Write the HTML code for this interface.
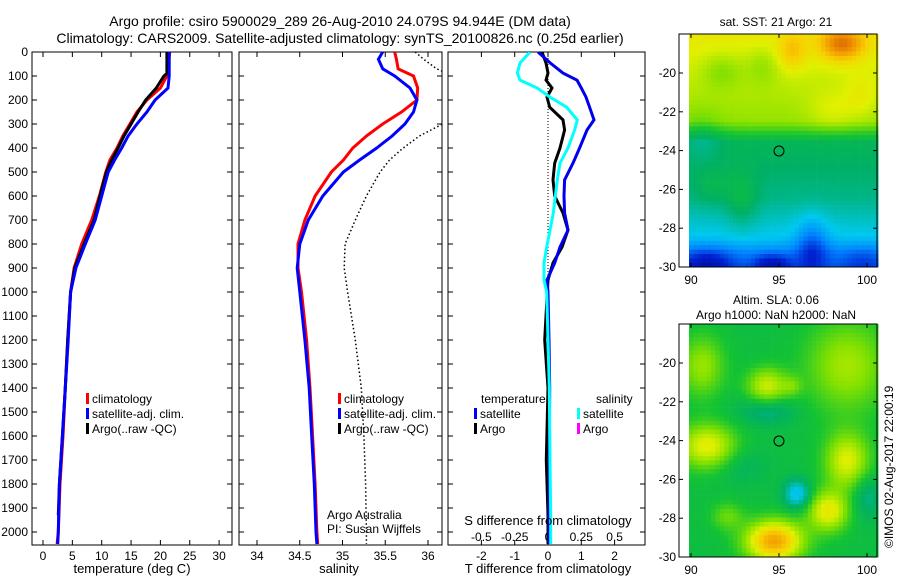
<!DOCTYPE html>
<html><head><meta charset="utf-8"><style>
body{margin:0;background:#fff}
svg{display:block;font-family:"Liberation Sans","DejaVu Sans",sans-serif}
</style></head><body>
<svg id="fig" width="900" height="580" xmlns="http://www.w3.org/2000/svg">
<defs>
<clipPath id="c1"><rect x="32" y="52" width="200" height="493"/></clipPath>
<clipPath id="c2"><rect x="239" y="52" width="203" height="493"/></clipPath>
<clipPath id="c3"><rect x="448" y="52" width="197" height="493"/></clipPath>
</defs>
<text x="340" y="26" font-size="14" text-anchor="middle">Argo profile: csiro 5900029_289 26-Aug-2010 24.079S 94.944E (DM data)</text>
<text x="340" y="43" font-size="14" text-anchor="middle">Climatology: CARS2009. Satellite-adjusted climatology: synTS_20100826.nc (0.25d earlier)</text>
<g id="p1"></g>
<g id="p2"></g>
<g id="p3"></g>
<g id="m1"></g>
<g id="m2"></g>
<text x="132" y="573" font-size="13" text-anchor="middle">temperature (deg C)</text>
<text x="339" y="573" font-size="13" text-anchor="middle">salinity</text>
<text x="548" y="573" font-size="13" text-anchor="middle">T difference from climatology</text>
<text x="548" y="525" font-size="13" text-anchor="middle">S difference from climatology</text>
<text x="327" y="519" font-size="12">Argo Australia</text>
<text x="327" y="533" font-size="12">PI: Susan Wijffels</text>
<text x="776" y="26" font-size="12" text-anchor="middle">sat. SST: 21 Argo: 21</text>
<text x="776" y="304" font-size="12" text-anchor="middle">Altim. SLA: 0.06</text>
<text x="776" y="319" font-size="12" text-anchor="middle">Argo h1000: NaN h2000: NaN</text>
<text x="0" y="0" font-size="12" transform="translate(893,548) rotate(-90)">©IMOS 02-Aug-2017 22:00:19</text>
</svg>
<script>
// ---- data ----
const depthT = [0,90,100,150,200,250,300,350,400,450,500,600,700,800,900,1000,1200,1400,1600,1800,2000,2050];
const tempClim = [21.6,21.2,21.1,20.0,17.7,16.0,14.8,13.6,12.6,11.4,10.7,9.6,8.3,6.6,5.3,4.7,4.2,3.8,3.4,2.9,2.6,2.4];
const tempSat  = [21.5,21.5,21.5,21.3,19.1,17.7,16.0,14.5,13.4,12.2,11.1,10.0,8.9,7.2,5.6,4.7,4.3,3.8,3.3,2.8,2.6,2.5];
const depthArgo = [0,90,100,150,200,250,300,350,400,450,500,600,700,800,900,1000,1200,1400,1600,1800,1930];
const tempArgo = [21.1,21.1,20.6,19.3,17.5,16.2,15.0,13.8,12.8,11.7,10.8,9.7,8.7,7.0,5.4,4.7,4.2,3.8,3.3,2.8,2.6];
const depthS = [0,30,70,100,150,200,250,300,350,400,450,500,600,700,800,900,1000,1200,1400,1600,1800,2000,2050];
const salClim = [35.61,35.63,35.65,35.83,35.88,35.87,35.69,35.47,35.28,35.12,35.01,34.87,34.68,34.56,34.48,34.48,34.52,34.58,34.62,34.65,34.68,34.70,34.71];
const salSat  = [35.47,35.42,35.47,35.61,35.79,35.87,35.83,35.73,35.58,35.40,35.20,35.01,34.77,34.60,34.50,34.47,34.50,34.56,34.61,34.64,34.67,34.69,34.70];
const salArgo = [35.85,35.95,36.10,36.30,36.40,36.40,36.30,36.17,35.90,35.71,35.55,35.44,35.28,35.15,35.03,35.02,35.06,35.15,35.22,35.25,35.27,35.28,35.28];
const depthD = [0,46,88,117,150,188,230,283,325,400,463,533,600,671,742,813,879,950,1000,1200,1400,1700,1930,2050];
const dTsat  = [-0.30,0.07,0.45,0.87,1.0,1.14,1.25,1.38,1.17,0.95,0.75,0.50,0.48,0.50,0.60,0.36,0.20,-0.03,0.0,0.03,0.05,0.04,0.03,0.03];
const dTargo = [-0.18,-0.06,0.0,-0.06,0.12,-0.03,0.05,0.45,0.50,0.36,0.20,0.15,0.20,0.45,0.60,0.42,0.15,0.0,-0.02,-0.1,0.0,-0.05,0.0,0.0];
const dSsat  = [-0.135,-0.21,-0.23,-0.21,-0.08,0.015,0.14,0.22,0.20,0.15,0.09,0.07,0.055,0.04,0.015,-0.01,-0.03,-0.03,-0.01,0.0,0.01,0.015,0.02,0.02];
const depthTicks = [0,100,200,300,400,500,600,700,800,900,1000,1100,1200,1300,1400,1500,1600,1700,1800,1900,2000];
const tempTicks = [0,5,10,15,20,25,30];
const salTicks = [34,34.5,35,35.5,36];
const dTTicks = [-2,-1,0,1,2];
const dSTicks = [-0.5,-0.25,0,0.25,0.5];
const dSTickLabels = ['-0.5','-0.25','0','0.25','0.5'];
const latTicks = [-20,-22,-24,-26,-28,-30];
const lonTicks = [90,95,100];

const NS='http://www.w3.org/2000/svg';
function el(p,tag,a){const e=document.createElementNS(NS,tag);for(const k in a)e.setAttribute(k,a[k]);p.appendChild(e);return e;}
const Y=d=>52+d*0.24;
const xT=v=>43+v*5.87;
const xS=v=>257+(v-34)*85.5;
const xD=v=>548+v*33.3;
const xDS=v=>548+v*133.2;

function box(g,x0,x1,name){
  const r=el(g,'rect',{x:x0,y:52,width:x1-x0,height:493,fill:'none',stroke:'#000','stroke-width':1});
  
  
  depthTicks.forEach(d=>{
    el(g,'line',{x1:x0,x2:x0+5,y1:Y(d),y2:Y(d),stroke:'#000'});
    el(g,'line',{x1:x1,x2:x1-5,y1:Y(d),y2:Y(d),stroke:'#000'});
  });
}
function xticks(g,vals,labels,fx,ly,name){
  vals.forEach((v,i)=>{
    el(g,'line',{x1:fx(v),x2:fx(v),y1:545,y2:540,stroke:'#000'});
    el(g,'line',{x1:fx(v),x2:fx(v),y1:52,y2:57,stroke:'#000'});
    const t=el(g,'text',{x:fx(v),y:ly,'font-size':12,'text-anchor':'middle'});
    t.textContent=labels[i];
    
    
  });
}
function line(g,xs,ds,fx,color,name,clip,dash){
  const pts=xs.map((v,i)=>fx(v).toFixed(1)+','+Y(ds[i]).toFixed(1)).join(' ');
  const a={points:pts,fill:'none',stroke:color,'stroke-width':dash?1.5:3,'clip-path':'url(#'+clip+')'};
  if(dash)a['stroke-dasharray']='1.5,2.5';
  const p=el(g,'polyline',a);
  
  
}
function legendEntry(g,x,y,color,label,name){
  el(g,'rect',{x:x,y:y-10,width:3,height:11,fill:color});
  const t=el(g,'text',{x:x+6,y:y,'font-size':12});
  t.textContent=label;
  
  
}

// Panel 1
const p1=document.getElementById('p1');
box(p1,32,232,'temperature-axes');
depthTicks.forEach(d=>{const t=el(p1,'text',{x:28,y:Y(d)+4,'font-size':12,'text-anchor':'end'});t.textContent=d;
  
  });
xticks(p1,tempTicks,tempTicks.map(String),xT,560,'temperature-tick-label');
line(p1,tempClim,depthT,xT,'#ff0000','temp-climatology-line','c1');
line(p1,tempArgo,depthArgo,xT,'#000000','temp-argo-line','c1');
line(p1,tempSat,depthT,xT,'#0000ff','temp-satellite-line','c1');
legendEntry(p1,86,403,'#ff0000','climatology','legend-climatology');
legendEntry(p1,86,418,'#0000ff','satellite-adj. clim.','legend-satellite');
legendEntry(p1,86,433,'#000000','Argo(..raw -QC)','legend-argo');

// Panel 2
const p2=document.getElementById('p2');
box(p2,239,442,'salinity-axes');
xticks(p2,salTicks,salTicks.map(String),xS,560,'salinity-tick-label');
line(p2,salArgo,depthS,xS,'#000000','salinity-argo-dotted-line','c2',true);
line(p2,salClim,depthS,xS,'#ff0000','salinity-climatology-line','c2');
line(p2,salSat,depthS,xS,'#0000ff','salinity-satellite-line','c2');
legendEntry(p2,338,403,'#ff0000','climatology','legend-climatology');
legendEntry(p2,338,418,'#0000ff','satellite-adj. clim.','legend-satellite');
legendEntry(p2,338,433,'#000000','Argo(..raw -QC)','legend-argo');

// Panel 3
const p3=document.getElementById('p3');
box(p3,448,645,'difference-axes');
xticks(p3,dTTicks,dTTicks.map(String),xD,560,'t-diff-tick-label');
dSTicks.forEach((v,i)=>{const t=el(p3,'text',{x:xDS(v),y:541,'font-size':12,'text-anchor':'middle'});t.textContent=dSTickLabels[i];
  
  });
el(p3,'line',{x1:548,x2:548,y1:52,y2:545,stroke:'#000','stroke-width':1,'stroke-dasharray':'1,2'});
line(p3,dTargo,depthD,xD,'#000000','t-diff-argo-line','c3');
line(p3,dTsat,depthD,xD,'#0000ee','t-diff-satellite-line','c3');
line(p3,dSsat,depthD,xDS,'#00ffff','s-diff-satellite-line','c3');
{const t=el(p3,'text',{x:481,y:403,'font-size':12});t.textContent='temperature';
 
 }
{const t=el(p3,'text',{x:596,y:403,'font-size':12});t.textContent='salinity';
 
 }
legendEntry(p3,474,418,'#0000ff','satellite','legend-t-satellite');
legendEntry(p3,474,433,'#000000','Argo','legend-t-argo');
legendEntry(p3,577,418,'#00ffff','satellite','legend-s-satellite');
legendEntry(p3,577,433,'#ff00ff','Argo','legend-s-argo');

// Maps
const stops=[[0,[0,0,128]],[0.15,[0,32,208]],[0.25,[0,128,255]],[0.35,[0,200,240]],[0.45,[0,176,100]],[0.52,[20,195,50]],[0.6,[128,224,0]],[0.68,[224,240,0]],[0.75,[248,208,0]],[0.85,[240,144,0]],[1,[180,40,0]]];
function cmap(v){v=Math.max(0,Math.min(1,v));for(let i=1;i<stops.length;i++){if(v<=stops[i][0]){const a=stops[i-1],b=stops[i],t=(v-a[0])/(b[0]-a[0]);return 'rgb('+a[1].map((c,k)=>Math.round(c+(b[1][k]-c)*t)).join(',')+')';}}return 'rgb(180,40,0)';}
function gauss(x,y,b){const dx=(x-b[0])/b[2],dy=(y-b[1])/b[3];return b[4]*Math.exp(-(dx*dx+dy*dy));}
function drawMap(g,top,base,blobs,name){
  const fr=el(g,'rect',{x:679,y:top,width:198,height:233,fill:'#fff',stroke:'#000'});
  
  
  const cs=4.4;
  for(let x=689;x<877;x+=cs){for(let y=top;y<top+233;y+=cs){
    let v=base(y-top);blobs.forEach(b=>v+=gauss(x,y-top,b));
    el(g,'rect',{x:x.toFixed(1),y:y.toFixed(1),width:cs+0.3,height:cs+0.3,fill:cmap(v)});
  }}
  el(g,'rect',{x:679,y:top,width:198,height:233,fill:'none',stroke:'#000'});
  latTicks.forEach(l=>{const yy=top+39+(-20-l)*19.4;
    el(g,'line',{x1:679,x2:683,y1:yy,y2:yy,stroke:'#000'});
    el(g,'line',{x1:877,x2:873,y1:yy,y2:yy,stroke:'#000'});
    const t=el(g,'text',{x:676,y:yy+4,'font-size':12,'text-anchor':'end'});t.textContent=l;
    
    });
  lonTicks.forEach(l=>{const xx=691+(l-90)*17.6;
    el(g,'line',{x1:xx,x2:xx,y1:top+233,y2:top+229,stroke:'#000'});
    el(g,'line',{x1:xx,x2:xx,y1:top,y2:top+4,stroke:'#000'});
    const t=el(g,'text',{x:xx,y:top+250,'font-size':12,'text-anchor':'middle'});t.textContent=l;
    
    });
  const c=el(g,'circle',{cx:779,cy:top+117,r:5,fill:'none',stroke:'#000'});
  
  
}
drawMap(document.getElementById('m1'),34,
  y=> y<85?0.70-y*0.001: y<105?0.615-(y-85)*0.007 : y<165?0.47-(y-105)*0.0008 : y<200?0.42-(y-165)*0.002 : y<215?0.35-(y-200)*0.005:0.27-(y-215)*0.003,
  [[840,8,22,16,0.2],[790,15,14,18,0.09],[860,60,18,22,0.05],[720,35,20,18,-0.06],[760,30,18,20,-0.05],[830,75,25,20,0.05],[700,100,20,25,-0.05],[810,210,16,28,-0.12],[705,228,25,15,-0.14],[770,228,18,10,-0.14],[860,225,22,15,-0.06],[740,165,16,30,0.06],[710,150,18,20,0.04]],'sst-map');
drawMap(document.getElementById('m2'),324,
  y=>0.50,
  [[845,40,40,45,0.13],[700,40,22,30,0.12],[765,60,20,18,0.16],[705,120,28,22,0.19],[845,135,22,28,0.18],[826,185,20,20,0.2],[772,215,28,20,0.32],[795,168,13,14,-0.17],[765,85,28,14,-0.08],[865,170,15,22,-0.08],[725,190,16,14,0.08],[790,60,10,10,0.06],[740,140,25,18,-0.04]],'sla-map');
</script>
</body></html>
